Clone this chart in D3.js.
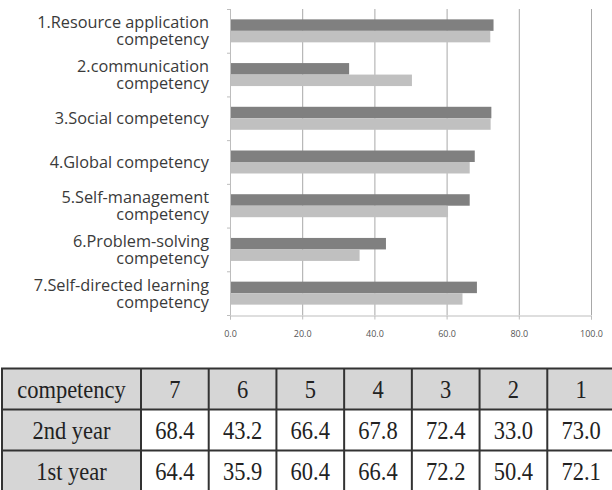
<!DOCTYPE html>
<html><head><meta charset="utf-8">
<script src="https://cdn.jsdelivr.net/npm/d3@7"></script>
<style>html,body{margin:0;padding:0;background:#fff;}svg{display:block;}</style>
</head><body>
<svg id="c" width="612" height="490"></svg>
<script>
// ---- data ----
const categoryIds = [1, 2, 3, 4, 5, 6, 7];
const categoryLabels = [
  ["1.Resource application", "competency"],
  ["2.communication", "competency"],
  ["3.Social competency"],
  ["4.Global competency"],
  ["5.Self-management", "competency"],
  ["6.Problem-solving", "competency"],
  ["7.Self-directed learning", "competency"]
];
const secondYear = [73.0, 33.0, 72.4, 67.8, 66.4, 43.2, 68.4];
const firstYear  = [72.1, 50.4, 72.2, 66.4, 60.4, 35.9, 64.4];
const seriesNames = ["2nd year", "1st year"];
const xTicks = [0, 20, 40, 60, 80, 100];
const tableHeader = "competency";
const tableOrder = [7, 6, 5, 4, 3, 2, 1];

// ---- chart ----
const svg = d3.select("#c");
const x = d3.scaleLinear().domain([0, 100]).range([230, 591]);
const y = d3.scaleBand().domain(categoryIds).range([9, 315]).paddingInner(0.474).paddingOuter(0.237);
const ys = d3.scaleBand().domain(seriesNames).range([0, y.bandwidth()]);
const yb = d3.scaleBand().domain(categoryIds).range([9, 315]);

// gridlines
svg.append("g").selectAll("line").data(xTicks.slice(1)).join("line")
  .attr("x1", d => x(d) + 0.5).attr("x2", d => x(d) + 0.5).attr("y1", 9).attr("y2", 315)
  .attr("stroke", "#a8a8a8").attr("stroke-width", 1);

// bars
const series = [secondYear, firstYear];
const colors = ["#808080", "#c0c0c0"];
seriesNames.forEach((s, si) => {
  svg.append("g").selectAll("rect").data(categoryIds).join("rect")
    .attr("x", x(0)).attr("y", (d, i) => y(d) + ys(s))
    .attr("width", (d, i) => x(series[si][i]) - x(0))
    .attr("height", ys.bandwidth())
    .attr("fill", colors[si]);
});

// left axis
const la = svg.append("g");
la.append("line").attr("x1", 230.5).attr("x2", 230.5).attr("y1", 9).attr("y2", 315).attr("stroke", "#bdbdbd");
la.selectAll("line.t").data(categoryIds.concat([8])).join("line").attr("class", "t")
  .attr("x1", 227).attr("x2", 230.5)
  .attr("y1", (d, i) => 9 + i * yb.step() + 0.5).attr("y2", (d, i) => 9 + i * yb.step() + 0.5)
  .attr("stroke", "#bdbdbd");

// bottom axis
const ba = svg.append("g").attr("transform", "translate(0,315.5)")
  .call(d3.axisBottom(x).tickValues(xTicks).tickFormat(d3.format(".1f")).tickSize(4).tickPadding(11));
ba.select(".domain").attr("stroke", "#bdbdbd");
ba.selectAll(".tick line").attr("stroke", "#bdbdbd");
ba.selectAll(".tick text").attr("fill", "#555").attr("font-family", "'Open Sans', sans-serif").attr("font-size", 9);

// category labels
const lab = svg.append("g").attr("font-family", "'Open Sans', sans-serif").attr("font-size", 16.3)
  .attr("fill", "#3a3a3a").attr("text-anchor", "end");
categoryIds.forEach((c, i) => {
  const cy = yb(c) + yb.bandwidth() / 2;
  const lines = categoryLabels[i];
  const t = lab.append("text").attr("x", 209).attr("y", lines.length === 1 ? cy + 6 : cy - 2.5);
  lines.forEach((ln, li) => {
    t.append("tspan").attr("x", 209).attr("dy", li === 0 ? 0 : 17).text(ln);
  });
});

// ---- table ----
const colX = d3.scaleBand().domain(tableOrder).range([141, 615]);
const rowY = d3.scaleBand().domain(["h", "r2", "r1"]).range([368.5, 491.5]);
const tg = svg.append("g");
const rows = [
  {k: "h", head: tableHeader, vals: tableOrder.map(String), fill: "#d6d6d6"},
  {k: "r2", head: seriesNames[0], vals: tableOrder.map(c => secondYear[c - 1].toFixed(1)), fill: "#fff"},
  {k: "r1", head: seriesNames[1], vals: tableOrder.map(c => firstYear[c - 1].toFixed(1)), fill: "#fff"}
];
rows.forEach(r => {
  tg.append("rect").attr("x", 2).attr("y", rowY(r.k)).attr("width", 139).attr("height", rowY.bandwidth()).attr("fill", "#d6d6d6");
  tg.selectAll(null).data(tableOrder).join("rect")
    .attr("x", d => colX(d)).attr("y", rowY(r.k)).attr("width", colX.bandwidth()).attr("height", rowY.bandwidth())
    .attr("fill", r.fill);
  const ty = rowY(r.k) + 29;
  tg.append("text").attr("class", "tt").attr("transform", `translate(71.5,${ty}) scale(1,1.1)`)
    .attr("text-anchor", "middle").text(r.head);
  tg.selectAll(null).data(tableOrder).join("text").attr("class", "tt")
    .attr("transform", d => `translate(${colX(d) + colX.bandwidth() / 2},${ty}) scale(1,1.1)`)
    .attr("text-anchor", "middle")
    .text((d, i) => r.vals[i]);
});
tg.selectAll("text.tt").attr("font-family", "'Liberation Serif', 'Times New Roman', serif").attr("font-size", 22.5).attr("fill", "#222");
// grid lines of table
const vx = [2, 141].concat(tableOrder.map(c => colX(c) + colX.bandwidth()));
tg.selectAll("line.v").data(vx).join("line").attr("class", "v")
  .attr("x1", d => d).attr("x2", d => d).attr("y1", 368.5).attr("y2", 492)
  .attr("stroke", "#333").attr("stroke-width", 2);
tg.selectAll("line.h").data([368.5, rowY("r2"), rowY("r1")]).join("line").attr("class", "h")
  .attr("x1", 1).attr("x2", 612).attr("y1", d => d).attr("y2", d => d)
  .attr("stroke", "#333").attr("stroke-width", 2);
</script>
</body></html>
